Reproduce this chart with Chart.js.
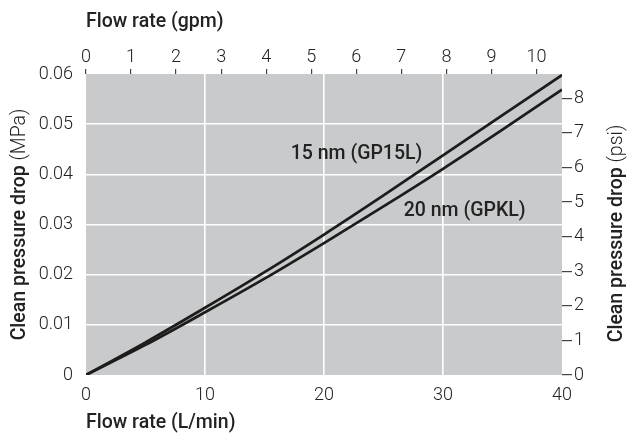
<!DOCTYPE html>
<html>
<head>
<meta charset="utf-8">
<script src="https://cdn.jsdelivr.net/npm/chart.js@4/dist/chart.umd.min.js"></script>
<style>
    html, body { margin: 0; padding: 0; background: #ffffff; }
</style>
</head>
<body>
<canvas id="pressureDropChart" width="632" height="435"></canvas>
<script>
// Flow rate (L/min) on the x axis, clean pressure drop (MPa) on the y axis
var flowRates = [0, 5, 10, 15, 20, 25, 30, 35, 40];
var dropGP15L = [0, 0.0065, 0.0134, 0.0205, 0.0280, 0.0358, 0.0438, 0.0518, 0.0598];
var dropGPKL = [0, 0.0060, 0.0125, 0.0192, 0.0263, 0.0336, 0.0411, 0.0489, 0.0569];
var seriesNames = ['15 nm (GP15L)', '20 nm (GPKL)'];

// tick values of the four axes
var lpmTicks = [0, 10, 20, 30, 40];
var mpaTicks = [0, 0.01, 0.02, 0.03, 0.04, 0.05, 0.06];
var gpmTicks = [0, 1, 2, 3, 4, 5, 6, 7, 8, 9, 10];
var psiTicks = [0, 1, 2, 3, 4, 5, 6, 7, 8];

// unit conversions for the secondary axes
var LPM_PER_GPM = 3.78541;
var MPA_PER_PSI = 0.00689476;

var FAMILY = 'Roboto, "Liberation Sans", Arial, sans-serif';
var tickFont = { family: FAMILY, size: 18, weight: '300' };
var boldFont = { family: FAMILY, size: 19.5, weight: '500' };
var INK = '#222222';
var PLOT_BG = '#c8cacc';

function useTicks(values) {
    return function(scale) {
        scale.ticks = values.map(function(v) { return { value: v }; });
    };
}

function innerGrid(ctx) {
    var s = ctx.scale;
    if (!ctx.tick) return 'rgba(0,0,0,0)';
    var v = ctx.tick.value;
    return (v <= s.min || v >= s.max) ? 'rgba(0,0,0,0)' : '#ffffff';
}

// grey plot area
var plotBackground = {
    id: 'plotBackground',
    beforeDraw: function(chart) {
        var a = chart.chartArea, c = chart.ctx;
        c.save();
        c.fillStyle = PLOT_BG;
        c.fillRect(a.left, a.top, a.right - a.left, a.bottom - a.top);
        c.restore();
    }
};

// y titles (bold name + light unit) and the curve names
var extraText = {
    id: 'extraText',
    afterDraw: function(chart) {
        var c = chart.ctx, a = chart.chartArea;
        var xs = chart.scales.x, ys = chart.scales.y;

        function verticalTitle(x, cy, main, unit) {
            c.save();
            c.translate(x, cy);
            c.rotate(-Math.PI / 2);
            c.textBaseline = 'middle';
            c.fillStyle = INK;
            c.font = boldFont.weight + ' ' + boldFont.size + 'px ' + FAMILY;
            var w1 = c.measureText(main).width;
            c.font = '300 ' + boldFont.size + 'px ' + FAMILY;
            var w2 = c.measureText(unit).width;
            var start = -(w1 + w2) / 2;
            c.textAlign = 'left';
            c.font = boldFont.weight + ' ' + boldFont.size + 'px ' + FAMILY;
            c.fillText(main, start, 0);
            c.font = '300 ' + boldFont.size + 'px ' + FAMILY;
            c.fillText(unit, start + w1, 0);
            c.restore();
        }
        var mid = (a.top + a.bottom) / 2;
        verticalTitle(20, mid, 'Clean pressure drop ', '(MPa)');
        verticalTitle(617, mid + 9, 'Clean pressure drop ', '(psi)');

        c.save();
        c.fillStyle = INK;
        c.font = boldFont.weight + ' ' + boldFont.size + 'px ' + FAMILY;
        c.textAlign = 'left';
        c.textBaseline = 'middle';
        c.fillText(seriesNames[0], xs.getPixelForValue(17.2), ys.getPixelForValue(0.0441));
        c.fillText(seriesNames[1], xs.getPixelForValue(26.7), ys.getPixelForValue(0.0327));
        c.restore();
    }
};

var ctx = document.getElementById('pressureDropChart').getContext('2d');
var pressureDropChart = new Chart(ctx, {
    type: 'line',
    data: {
        labels: flowRates,
        datasets: [{
            label: seriesNames[0],
            data: flowRates.map(function(x, i) { return { x: x, y: dropGP15L[i] }; }),
            borderColor: '#1c1c1c',
            borderWidth: 2.7,
            pointRadius: 0,
            cubicInterpolationMode: 'monotone',
            fill: false
        }, {
            label: seriesNames[1],
            data: flowRates.map(function(x, i) { return { x: x, y: dropGPKL[i] }; }),
            borderColor: '#1c1c1c',
            borderWidth: 2.7,
            pointRadius: 0,
            cubicInterpolationMode: 'monotone',
            fill: false
        }]
    },
    options: {
        responsive: false,
        animation: false,
        layout: { padding: 0 },
        plugins: {
            legend: { display: false },
            tooltip: { enabled: false }
        },
        scales: {
            x: {
                type: 'linear',
                position: 'bottom',
                min: 0,
                max: 40,
                afterBuildTicks: useTicks(lpmTicks),
                afterFit: function(s) { s.height = 60; },
                border: { display: false },
                grid: { color: innerGrid, lineWidth: 1.6, drawTicks: false },
                ticks: { color: INK, font: tickFont, padding: 10, maxRotation: 0 },
                title: {
                    display: true, text: 'Flow rate (L/min)', align: 'start',
                    color: INK, font: boldFont, padding: { top: 0, bottom: 0 }
                }
            },
            x2: {
                type: 'linear',
                position: 'top',
                min: 0,
                max: 40 / LPM_PER_GPM,
                afterBuildTicks: useTicks(gpmTicks),
                afterFit: function(s) { s.height = 74; },
                border: { display: false },
                grid: { drawOnChartArea: false, tickLength: 5, tickColor: '#444444', lineWidth: 1.2 },
                ticks: { color: INK, font: tickFont, padding: 1, maxRotation: 0 },
                title: {
                    display: true, text: 'Flow rate (gpm)', align: 'start',
                    color: INK, font: boldFont, padding: { top: 10, bottom: 0 }
                }
            },
            y: {
                type: 'linear',
                position: 'left',
                min: 0,
                max: 0.06,
                afterBuildTicks: useTicks(mpaTicks),
                afterFit: function(s) { s.width = 86; },
                border: { display: false },
                grid: { color: innerGrid, lineWidth: 1.6, drawTicks: false },
                ticks: {
                    color: INK, font: tickFont, padding: 13,
                    callback: function(v) { return v === 0 ? '0' : v.toFixed(2); }
                }
            },
            y2: {
                type: 'linear',
                position: 'right',
                min: 0,
                max: 0.06 / MPA_PER_PSI,
                afterBuildTicks: useTicks(psiTicks),
                afterFit: function(s) { s.width = 70; },
                border: { display: false },
                grid: { drawOnChartArea: false, tickLength: 10, tickColor: '#444444', lineWidth: 1.2 },
                ticks: { color: INK, font: tickFont, padding: 2 }
            }
        }
    },
    plugins: [plotBackground, extraText]
});
</script>
</body>
</html>
